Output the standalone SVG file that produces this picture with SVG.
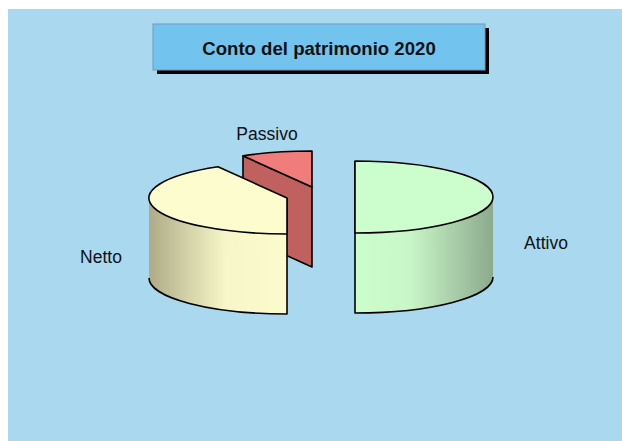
<svg xmlns="http://www.w3.org/2000/svg" width="622" height="441" viewBox="0 0 622 441">
<style>
.lbl{font-family:"Liberation Sans",Arial,sans-serif;font-size:17.5px;fill:#111}
.ttl{font-family:"Liberation Sans",Arial,sans-serif;font-size:18.6px;font-weight:bold;fill:#111}
.edge{fill:none;stroke:#000;stroke-width:1.6;stroke-linejoin:round}
</style>
<defs>
<linearGradient id="gA" x1="355" y1="0" x2="493" y2="0" gradientUnits="userSpaceOnUse">
<stop offset="0" stop-color="#ccfdcc"/>
<stop offset="0.4" stop-color="#c8f6c8"/>
<stop offset="1" stop-color="#8daa8d"/>
</linearGradient>
<linearGradient id="gN" x1="149" y1="0" x2="287" y2="0" gradientUnits="userSpaceOnUse">
<stop offset="0" stop-color="#aeab86"/>
<stop offset="0.55" stop-color="#f6f6c8"/>
<stop offset="1" stop-color="#fbfbcd"/>
</linearGradient>
</defs>
<rect x="0" y="0" width="622" height="441" fill="#ffffff"/>
<rect x="8" y="9" width="614" height="432" fill="#a9d8ef"/>
<g id="title">
<rect x="157" y="28" width="332" height="46" fill="#000"/>
<rect x="153" y="24" width="332" height="46" fill="#72c4ef" stroke="#6f9cbc" stroke-width="1"/>
<text class="ttl" x="319" y="55" text-anchor="middle">Conto del patrimonio 2020</text>
</g>
<g id="passivo">
<path d="M312,187 L243,155.8 L243,235.8 L312,267 Z" class="edge" style="fill:#c0605f"/>
<path d="M312,187 L243,155.8 A138,36 0 0 1 312,151 Z" class="edge" style="fill:#f07c7c"/>
<text class="lbl" x="267" y="140" text-anchor="middle">Passivo</text>
</g>
<g id="netto">
<path d="M287,234 A138,36 0 0 1 149,198 L149,278 A138,36 0 0 0 287,314 Z" fill="url(#gN)"/>
<path d="M149,278 A138,36 0 0 0 287,314 L287,198" class="edge"/>
<path d="M287,198 L218,166.8 A138,36 0 0 0 287,234 Z" class="edge" style="fill:#fcfccf"/>
<text class="lbl" x="101" y="263" text-anchor="middle">Netto</text>
</g>
<g id="attivo">
<path d="M493,197 A138,36 0 0 1 355,233 L355,313 A138,36 0 0 0 493,277 Z" fill="url(#gA)"/>
<path d="M355,161 L355,313 A138,36 0 0 0 493,277" class="edge"/>
<path d="M355,161 A138,36 0 0 1 355,233 Z" class="edge" style="fill:#ccfdcc"/>
<text class="lbl" x="546" y="249" text-anchor="middle">Attivo</text>
</g>
<g id="connectors"/>
</svg>
